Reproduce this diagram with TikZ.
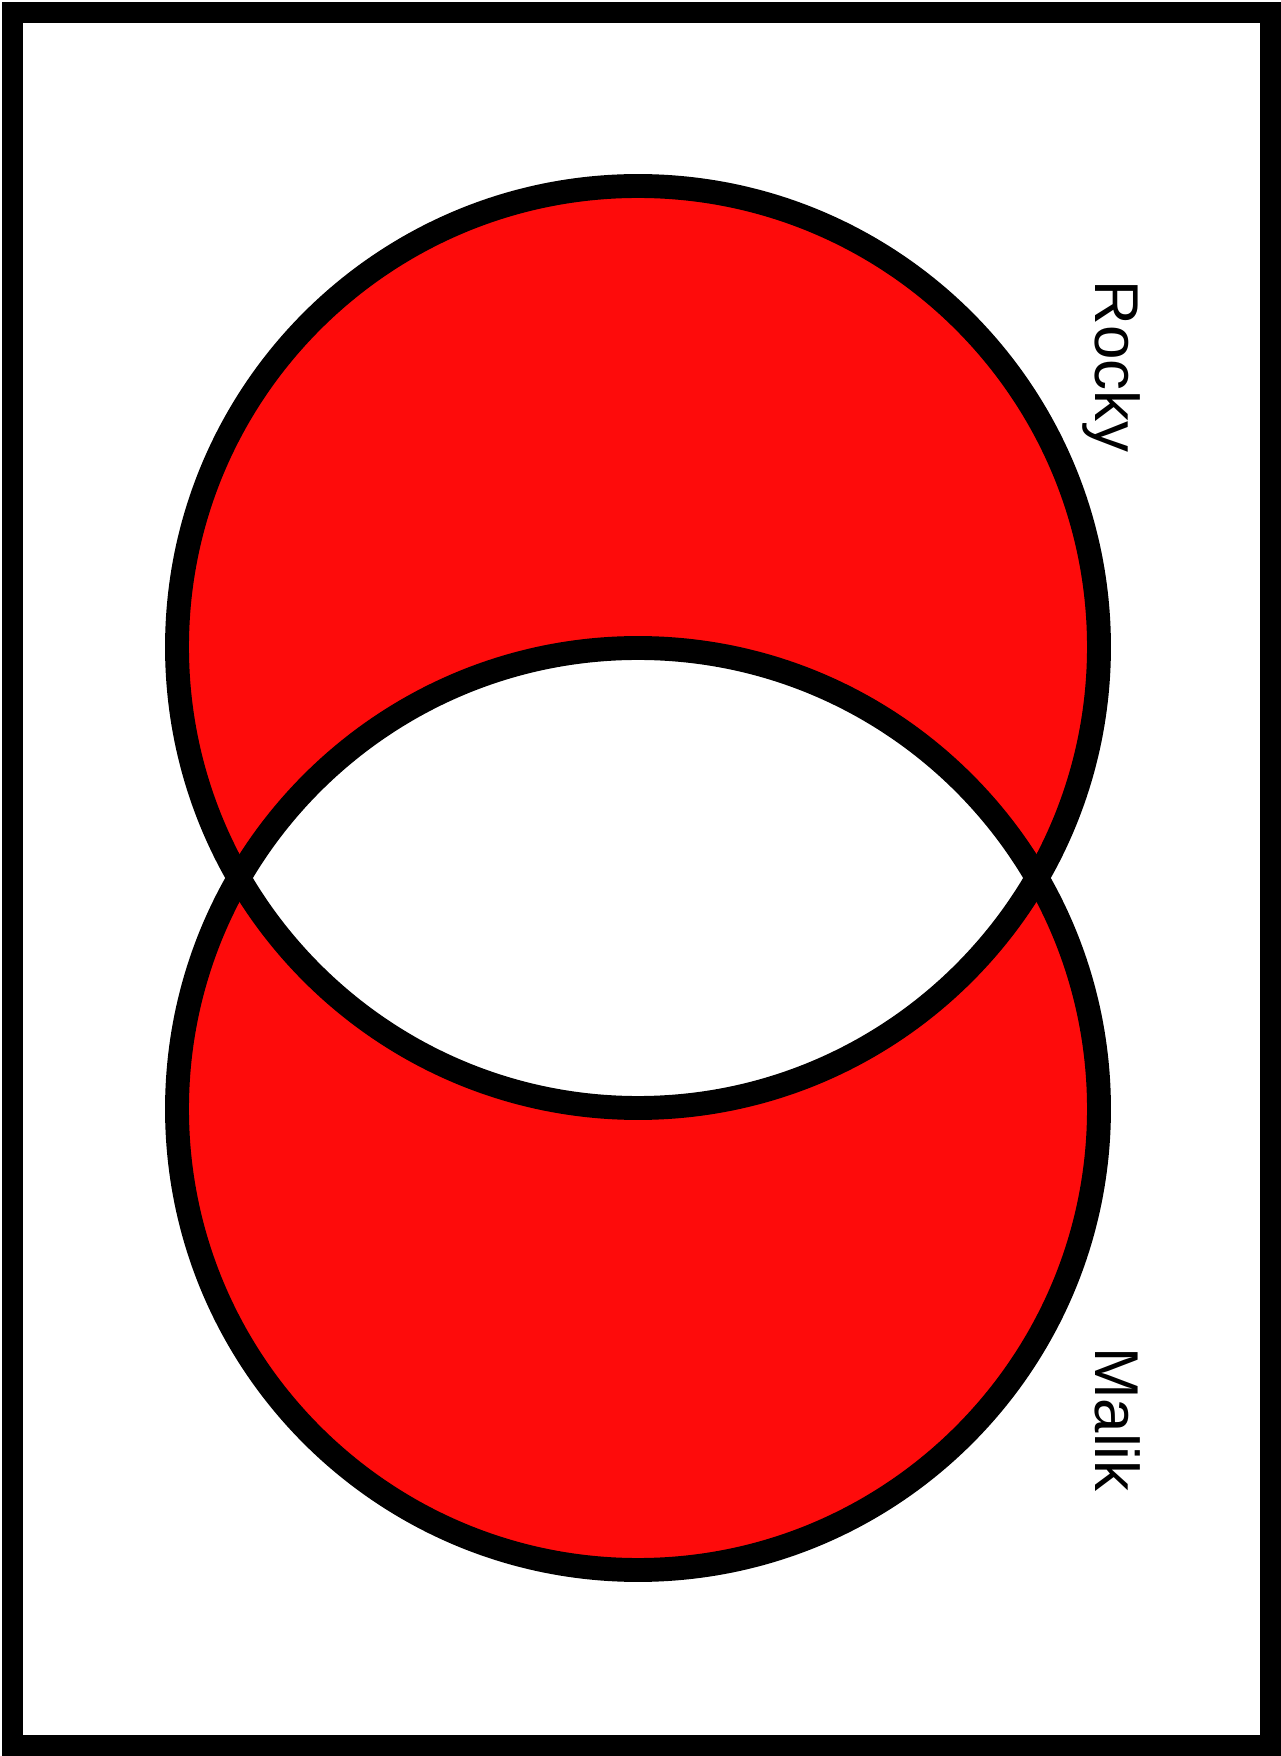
\documentclass[tikz,border=0pt]{standalone}
\usepackage{fontspec}
\setmainfont{Liberation Sans}
\usepackage{tikz}
\usetikzlibrary{positioning}
\usepackage{xcolor}
\definecolor{vennred}{RGB}{254, 11, 11}

\begin{document}
\begin{tikzpicture}[x=0.01cm, y=0.01cm,
    ring/.style={draw=black, line width=6.8pt},
    setname/.style={font=\fontsize{17.6}{20}\selectfont, rotate=-90, anchor=base, inner sep=0pt}]
  \useasboundingbox (0,0) rectangle (1281,1756);
  \draw[line width=6pt] (12.5,10.5) rectangle (1271,1743.5);
  \coordinate (rocky) at (638,1109);
  \coordinate (malik) at (638,647);
  \fill[vennred, even odd rule] (rocky) circle (461) (malik) circle (461);
  \draw[ring] (rocky) circle (461);
  \draw[ring] (malik) circle (461);
  \node[setname] (rockylabel) at (1095,1389.5) {Rocky};
  \node[setname] (maliklabel) at (1095,336.5) {Malik};
\end{tikzpicture}
\end{document}
